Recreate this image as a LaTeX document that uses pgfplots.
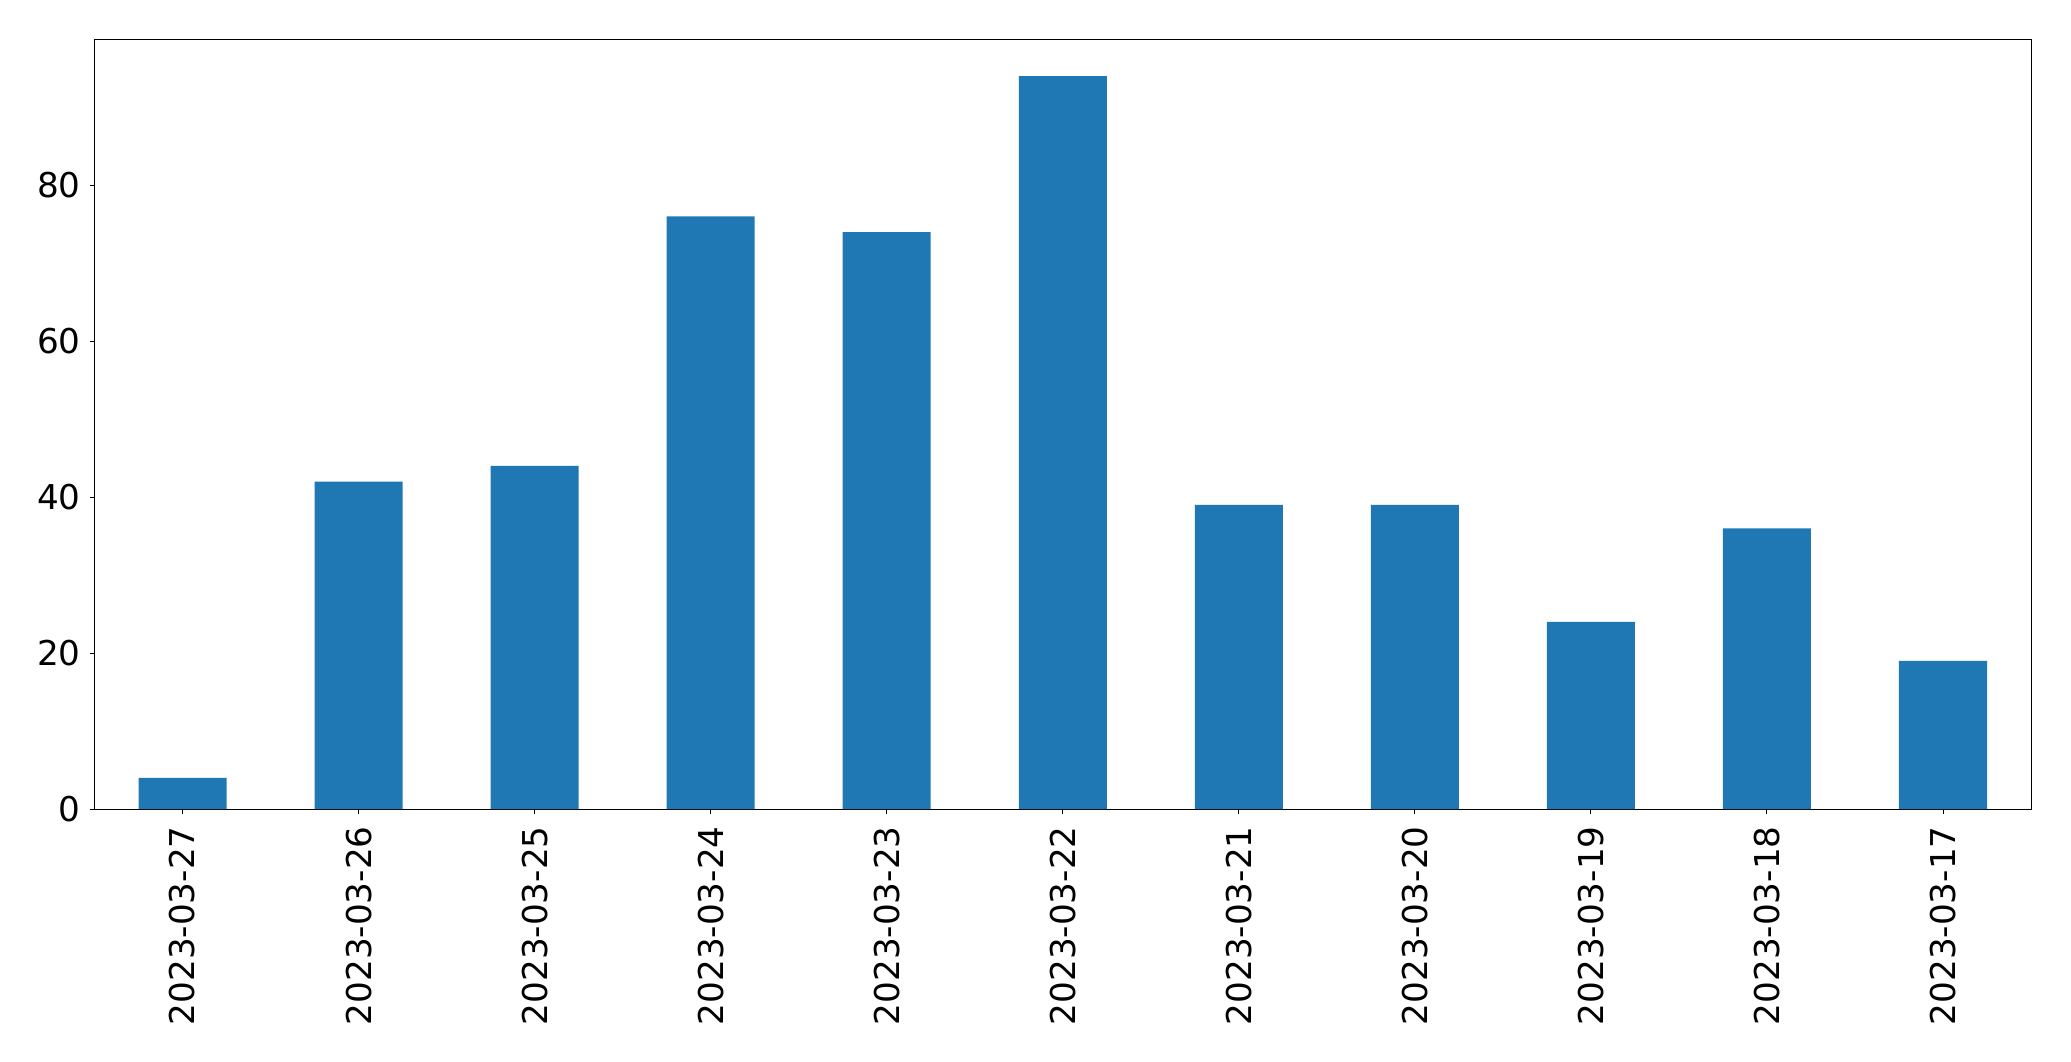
\documentclass[border=0pt]{standalone}
\usepackage{fontspec}
\setmainfont{DejaVu Sans}
\usepackage{pgfplots}
\pgfplotsset{compat=1.18}
\definecolor{mplblue}{HTML}{1F77B4}
\begin{document}
\begin{tikzpicture}
\begin{axis}[
  at={(0,0)}, anchor=south west,
  scale only axis,
  width=968.25pt, height=384.75pt,
  xmin=-0.5, xmax=10.5,
  ymin=0, ymax=98.7,
  xtick={0,1,2,3,4,5,6,7,8,9,10},
  xticklabels={2023-03-27,2023-03-26,2023-03-25,2023-03-24,2023-03-23,2023-03-22,2023-03-21,2023-03-20,2023-03-19,2023-03-18,2023-03-17},
  ytick={0,20,40,60,80},
  tick align=outside,
  tick pos=left,
  major tick length=2.5pt,
  tick style={black, line width=0.5pt},
  axis line style={black, line width=0.5pt},
  /pgf/number format/assume math mode=true,
  tick label style={font=\fontsize{17.1}{20.5}\selectfont, inner sep=0pt},
  xticklabel style={rotate=90, anchor=east},
  yticklabel style={anchor=east},
  xticklabel shift=6pt,
  yticklabel shift=4.25pt,
  axis background/.style={fill=white},
]
\addplot[ybar, bar width=0.5, fill=mplblue, draw=none, bar shift=0pt]
  coordinates {(0,4) (1,42) (2,44) (3,76) (4,74) (5,94) (6,39) (7,39) (8,24) (9,36) (10,19)};
\end{axis}
\path[use as bounding box] (-47.25pt,-126pt) rectangle (988.25pt,404.5pt);
\end{tikzpicture}
\end{document}
